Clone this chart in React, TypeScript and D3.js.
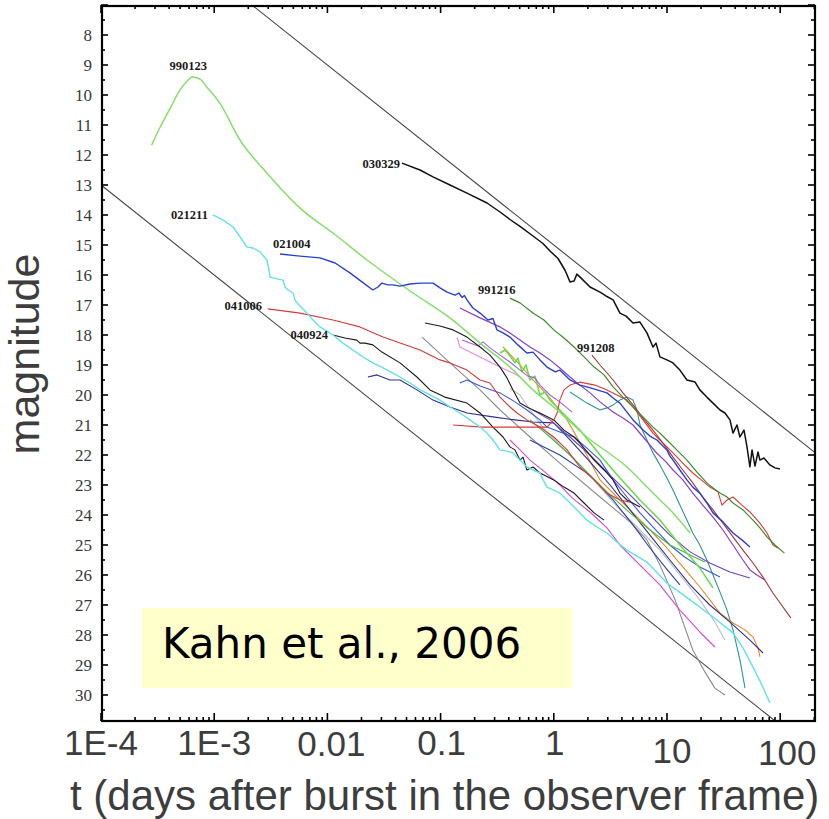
import React from "react";
import * as d3 from "d3";

type Pt = [number, number]; // [days after burst, magnitude]

// ---- labelled afterglow light curves ----
const grb990123: Pt[] = [
  [2.8e-4, 11.67], [3.3e-4, 11.1], [4.1e-4, 10.43], [5.0e-4, 9.83], [5.9e-4, 9.5], [6.4e-4, 9.4],
  [7.5e-4, 9.47], [8.6e-4, 9.73], [1.12e-3, 10.27], [1.69e-3, 11.5], [2.92e-3, 12.6], [5.97e-3, 13.83],
  [0.0112, 14.6], [0.0224, 15.5], [0.057, 16.6], [0.121, 17.43], [0.223, 18.27], [0.41, 19.07],
  [0.655, 19.83], [1.07, 20.5], [1.96, 21.4], [4.43, 22.4], [7.52, 23.27], [11.3, 23.93], [16.0, 24.6],
];

const grb021004: Pt[] = [
  [3.81e-3, 15.3], [5.73e-3, 15.37], [8.6e-3, 15.43], [0.0117, 15.6], [0.0158, 15.93], [0.0202, 16.23],
  [0.0252, 16.5], [0.028, 16.4], [0.0303, 16.27], [0.0343, 16.33], [0.0379, 16.33], [0.0438, 16.37],
  [0.0537, 16.3], [0.0658, 16.27], [0.0857, 16.27], [0.0988, 16.43], [0.114, 16.57], [0.134, 16.67],
  [0.145, 16.6], [0.155, 16.75], [0.162, 16.68], [0.171, 16.83], [0.193, 17.1], [0.223, 17.27],
  [0.262, 17.5], [0.29, 17.45], [0.315, 17.83], [0.356, 17.93], [0.41, 18.07], [0.482, 18.33],
  [0.579, 18.6], [0.655, 18.57], [0.755, 18.83], [0.871, 19.07], [1.03, 19.23], [1.13, 19.17],
  [1.39, 19.5], [1.7, 19.67], [1.96, 19.73], [2.41, 19.83], [2.95, 19.93], [3.34, 20.1], [3.84, 20.27],
  [4.43, 20.57], [5.01, 20.83], [5.55, 21.0], [6.14, 21.17], [7.07, 21.37], [8.15, 21.5], [9.02, 21.67],
  [9.98, 21.83], [10.6, 22.03], [11.3, 22.17], [13.0, 22.5], [15.0, 22.83], [16.9, 23.07], [19.5, 23.27],
  [22.5, 23.6], [25.5, 23.93], [31.2, 24.23], [38.3, 24.6], [45.9, 24.83], [54.0, 25.07],
];

const grb030329: Pt[] = [
  [0.0456, 12.27], [0.0658, 12.5], [0.0857, 12.73], [0.121, 13.0], [0.171, 13.27], [0.257, 13.6],
  [0.335, 13.9], [0.41, 14.15], [0.503, 14.38], [0.655, 14.7], [0.802, 14.95], [0.925, 15.2],
  [1.09, 15.45], [1.26, 15.85], [1.39, 16.23], [1.51, 16.2], [1.6, 15.97], [1.77, 16.13], [2.09, 16.4],
  [2.56, 16.57], [2.89, 16.7], [3.34, 16.83], [3.84, 17.27], [4.35, 17.37], [5.01, 17.6], [5.77, 17.57],
  [6.65, 17.93], [7.52, 18.4], [8.0, 18.27], [8.66, 18.73], [9.98, 18.83], [11.3, 18.93], [13.0, 19.17],
  [15.0, 19.5], [17.7, 19.57], [19.5, 19.83], [22.5, 20.07], [25.5, 20.27], [29.4, 20.5], [32.5, 20.6],
  [36.0, 20.83], [38.3, 21.27], [41.5, 21.0], [44.1, 21.4], [47.9, 21.17], [50.9, 21.73], [54.0, 22.4],
  [56.4, 21.83], [59.9, 22.37], [63.7, 21.9], [66.2, 22.17], [71.9, 22.1], [81.1, 22.33], [89.9, 22.43],
  [99.5, 22.47],
];

const grb991216: Pt[] = [
  [0.41, 16.77], [0.503, 16.93], [0.655, 17.27], [0.818, 17.5], [1.0, 17.83], [1.23, 18.1], [1.51, 18.4],
  [1.85, 18.73], [2.27, 19.07], [2.78, 19.33], [3.34, 19.73], [4.08, 20.07], [5.01, 20.4], [6.14, 20.73],
  [7.52, 21.07], [8.66, 21.27], [9.98, 21.5], [12.2, 21.83], [15.0, 22.17], [18.4, 22.57], [22.5, 22.93],
  [25.5, 23.1], [29.4, 23.27], [33.9, 23.4], [38.3, 23.6], [46.9, 23.83], [57.5, 24.17], [66.2, 24.43],
  [76.4, 24.73], [89.9, 25.0], [109, 25.27],
];

const grb991208: Pt[] = [
  [2.17, 18.67], [2.56, 19.0], [3.34, 19.5], [4.08, 19.93], [5.01, 20.33], [6.14, 20.77], [7.52, 21.17],
  [9.2, 21.6], [11.3, 22.07], [13.8, 22.5], [16.9, 22.93], [20.7, 23.4], [25.5, 23.83], [31.2, 24.27],
  [38.3, 24.73], [46.9, 25.17], [57.5, 25.6], [70.5, 26.07], [86.3, 26.6], [124, 27.43],
];

const grb021211: Pt[] = [
  [9.75e-4, 14.0], [1.2e-3, 14.17], [1.47e-3, 14.4], [1.69e-3, 14.73], [1.95e-3, 15.07], [2.2e-3, 15.1],
  [2.54e-3, 15.23], [2.92e-3, 15.5], [3.05e-3, 15.83], [3.11e-3, 16.07], [3.59e-3, 16.13], [4.06e-3, 16.17],
  [4.22e-3, 16.4], [4.49e-3, 16.5], [4.97e-3, 16.6], [5.17e-3, 16.83], [5.39e-3, 16.93], [5.97e-3, 17.1],
  [6.6e-3, 17.27], [7.46e-3, 17.5], [8.6e-3, 17.73], [9.93e-3, 17.87], [0.0112, 18.0], [0.0137, 18.27],
  [0.0168, 18.5], [0.0206, 18.73], [0.0252, 18.93], [0.031, 19.1], [0.0379, 19.27], [0.0438, 19.4],
  [0.0537, 19.6], [0.0658, 19.83], [0.0806, 20.0], [0.0988, 20.17], [0.121, 20.4], [0.148, 20.6],
  [0.182, 20.83], [0.223, 21.07], [0.257, 21.27], [0.29, 21.5], [0.335, 21.83], [0.386, 21.87],
  [0.436, 21.93], [0.503, 22.17], [0.579, 22.4], [0.655, 22.5], [0.755, 22.6], [0.804, 22.83],
  [0.871, 23.07], [1.0, 23.17], [1.13, 23.27], [1.31, 23.5], [1.51, 23.73], [1.7, 23.93], [1.96, 24.17],
  [2.41, 24.4], [2.95, 24.6], [3.61, 24.9], [4.43, 25.17], [5.43, 25.37], [6.65, 25.57], [9.98, 26.27],
  [16.0, 26.83], [25.5, 27.4], [38.3, 27.93], [46.9, 28.43], [57.5, 29.07], [69.0, 29.67], [81.1, 30.27],
];

const grb041006: Pt[] = [
  [2.98e-3, 17.13], [5.73e-3, 17.27], [0.0112, 17.5], [0.0194, 17.73], [0.031, 18.07], [0.0438, 18.27],
  [0.0658, 18.5], [0.0988, 18.83], [0.121, 18.93], [0.171, 19.17], [0.223, 19.5], [0.273, 19.6],
  [0.335, 20.07], [0.41, 20.4], [0.473, 20.6], [0.579, 20.83], [0.755, 21.07], [1.0, 21.4], [1.31, 21.83],
  [1.7, 22.4], [2.27, 22.83], [2.95, 23.27], [3.84, 23.5], [4.71, 23.57],
];

const grb040924: Pt[] = [
  [0.0112, 18.0], [0.0143, 18.1], [0.0182, 18.17], [0.0194, 18.27], [0.0215, 18.27], [0.0252, 18.33],
  [0.0303, 18.57], [0.0438, 18.93], [0.0618, 19.4], [0.0806, 19.83], [0.109, 20.07], [0.171, 20.27],
  [0.223, 20.6], [0.29, 21.07], [0.356, 21.4], [0.41, 21.73], [0.454, 21.83], [0.503, 22.17],
  [0.535, 22.07], [0.579, 22.5], [0.655, 22.4], [0.755, 22.6], [1.0, 22.83], [1.23, 23.07], [1.51, 23.27],
  [1.85, 23.6], [2.27, 23.93], [2.78, 24.17],
];

// ---- further afterglows in the bundle ----
const grb970508: Pt[] = [
  [0.129, 21.0], [0.237, 21.07], [0.473, 21.07], [0.871, 21.07], [1.0, 20.83], [1.07, 20.6], [1.13, 20.17],
  [1.23, 19.83], [1.39, 19.67], [1.7, 19.57], [2.31, 19.67], [2.95, 19.83], [3.61, 20.0], [4.43, 20.17],
  [5.01, 20.4], [6.14, 20.83], [7.52, 21.27], [9.2, 21.6], [11.3, 21.93], [13.8, 22.27], [16.9, 22.6],
  [20.7, 22.87], [23.9, 23.07], [28.2, 23.23], [30.6, 23.67], [33.9, 23.5], [38.3, 23.4], [45.9, 23.67],
  [54.0, 23.9], [66.2, 24.27], [76.4, 24.6], [86.3, 25.0], [95.5, 25.1],
];

const blackSecond: Pt[] = [
  [0.0728, 17.6], [0.0988, 17.7], [0.129, 17.83], [0.171, 18.07], [0.223, 18.4], [0.273, 18.67],
  [0.335, 19.07], [0.386, 19.43], [0.436, 19.83], [0.503, 20.27], [0.579, 20.4], [0.655, 20.5],
  [0.755, 20.6], [1.0, 20.83], [1.23, 21.17], [1.51, 21.4], [1.7, 21.6], [2.27, 22.17], [2.78, 22.5],
  [3.34, 22.83], [3.84, 23.27], [4.43, 23.5], [5.77, 23.73],
];

const purpleLong: Pt[] = [
  [0.148, 17.1], [0.223, 17.43], [0.335, 17.73], [0.41, 17.93], [0.503, 18.17], [0.616, 18.4],
  [0.755, 18.6], [0.925, 18.83], [1.13, 19.1], [1.39, 19.4], [1.7, 19.67], [2.09, 19.93], [2.56, 20.23],
  [3.34, 20.57], [4.08, 20.77], [5.01, 21.0], [6.48, 21.5], [7.95, 21.9], [9.79, 22.23], [11.3, 22.5],
  [13.8, 22.83], [16.9, 23.27], [20.7, 23.67], [25.5, 24.07], [31.2, 24.5], [38.3, 25.0], [46.9, 25.5],
  [54.0, 25.83], [62.4, 26.0], [73.5, 26.17],
];

const tealSteep: Pt[] = [
  [1.39, 19.9], [1.96, 20.27], [2.56, 20.5], [2.95, 20.43], [3.34, 20.33], [3.84, 20.17], [4.43, 20.07],
  [5.01, 20.17], [5.43, 20.5], [5.77, 21.0], [6.65, 21.5], [7.52, 21.93], [8.66, 22.33], [9.98, 22.77],
  [11.3, 23.17], [13.0, 23.67], [15.0, 24.17], [16.9, 24.6], [19.5, 25.0], [22.5, 25.5], [25.5, 26.0],
  [29.4, 26.57], [33.9, 27.17], [38.3, 27.83], [44.1, 28.83], [48.9, 29.77],
];

const grayLong: Pt[] = [
  [0.0686, 18.07], [0.121, 18.93], [0.223, 19.83], [0.335, 20.5], [0.616, 21.4], [1.13, 22.27],
  [2.56, 23.4], [4.71, 24.23], [6.65, 24.83], [8.66, 25.67], [11.8, 26.83], [16.9, 28.5], [21.6, 29.23],
  [26.5, 29.77], [32.5, 30.0],
];

const grayLight: Pt[] = [
  [0.41, 19.77], [0.503, 20.0], [0.616, 20.5], [0.836, 21.17], [1.13, 21.67], [1.7, 22.33], [2.56, 23.07],
  [3.84, 23.83], [5.77, 24.5], [8.66, 25.17], [13.0, 26.0], [19.5, 26.83], [26.5, 27.57], [32.5, 28.17],
];

const magentaTrack: Pt[] = [
  [0.41, 21.5], [0.503, 21.83], [0.616, 22.17], [0.836, 22.57], [1.13, 23.0], [1.45, 23.43], [2.09, 23.9],
  [2.95, 24.43], [3.84, 25.0], [5.77, 25.67], [8.66, 26.33], [13.0, 27.17], [19.5, 27.9], [26.5, 28.4],
];

const pinkShort: Pt[] = [
  [0.14, 18.07], [0.148, 18.4], [0.182, 18.57], [0.223, 18.73], [0.273, 18.9], [0.335, 19.07],
  [0.436, 19.27], [0.503, 19.4],
];

const violetTrack: Pt[] = [
  [0.155, 18.17], [0.182, 18.27], [0.214, 18.37], [0.237, 18.23], [0.273, 18.43], [0.335, 18.67],
  [0.41, 18.9], [0.503, 19.17], [0.591, 19.37], [0.682, 19.43], [0.755, 19.67], [0.925, 20.0],
  [1.13, 20.23], [1.45, 20.57],
];

const orangeTrack: Pt[] = [
  [0.356, 18.4], [0.503, 19.0], [0.655, 19.5], [0.925, 20.1], [1.31, 20.83], [1.85, 21.83], [2.56, 22.83],
  [3.61, 23.4], [5.01, 23.93], [7.07, 24.5], [9.98, 25.1], [13.8, 25.73], [19.5, 26.4], [23.9, 26.83],
  [29.4, 27.27], [38.3, 27.6], [48.9, 27.83], [57.5, 28.07], [63.7, 28.43], [66.2, 28.73],
];

const navyTrack: Pt[] = [
  [0.0228, 19.4], [0.0274, 19.33], [0.0357, 19.5], [0.0438, 19.5], [0.0618, 19.83], [0.0857, 20.17],
  [0.121, 20.4], [0.171, 20.6], [0.29, 20.73], [0.454, 20.83], [0.655, 20.9], [1.0, 20.93], [1.39, 21.5],
  [2.09, 22.23], [3.14, 23.0], [4.71, 23.83], [7.07, 24.67], [10.6, 25.5], [16.0, 26.33], [23.9, 27.0],
  [36.0, 27.57], [54.0, 28.17], [70.5, 28.6],
];

const purpleSecond: Pt[] = [
  [0.655, 20.5], [0.925, 20.83], [1.39, 21.4], [2.09, 22.0], [3.14, 22.67], [4.71, 23.33], [7.07, 24.0],
  [10.6, 24.67], [16.0, 25.23], [23.9, 25.6], [36.0, 25.9], [54.0, 26.1],
];

const blueSecond: Pt[] = [
  [0.148, 19.6], [0.171, 19.5], [0.223, 19.7], [0.335, 19.93], [0.454, 20.23], [0.579, 20.5],
  [0.755, 20.83], [0.871, 21.07], [1.13, 21.23], [1.51, 21.4], [1.96, 21.77], [2.56, 22.17], [3.34, 22.83],
  [4.43, 23.4], [5.77, 23.93], [7.95, 24.5], [10.6, 25.0], [14.3, 25.4], [19.5, 25.73], [29.4, 26.07],
];

const blueThird: Pt[] = [
  [0.616, 21.5], [1.13, 22.0], [2.09, 22.67], [3.34, 23.5], [5.01, 24.33], [7.07, 25.1], [9.79, 25.77],
  [13.0, 26.33],
];

const greenSecond: Pt[] = [
  [0.616, 20.83], [0.925, 21.4], [1.39, 22.0], [2.09, 22.67], [3.14, 23.33], [4.71, 23.93], [7.07, 24.5],
  [10.6, 25.0], [16.0, 25.33], [21.6, 25.57],
];

const greenBright: Pt[] = [
  [0.335, 18.6], [0.371, 18.5], [0.41, 18.7], [0.454, 18.93], [0.482, 18.77], [0.524, 19.23], [0.568, 19.0],
  [0.616, 19.5], [0.682, 19.37], [0.755, 20.0], [0.836, 19.9], [0.925, 20.17], [1.13, 20.5], [1.7, 21.17],
  [2.56, 22.0], [3.84, 22.77], [5.77, 23.5], [8.66, 24.17], [13.0, 25.0], [19.5, 25.77], [25.5, 26.43],
];

// ---- axes ----
const X_TICK_VALUES = [1e-4, 1e-3, 0.01, 0.1, 1, 10, 100];
const X_TICK_LABELS = ["1E-4", "1E-3", "0.01", "0.1", "1", "10", "100"];
const Y_TICK_VALUES = [8, 9, 10, 11, 12, 13, 14, 15, 16, 17, 18, 19, 20, 21, 22, 23, 24, 25, 26, 27, 28, 29, 30];

// power-law envelopes: magnitude at 1 day, decline in mag per decade of time
const ENVELOPE_MAG_AT_1D = [15, 25];
const ENVELOPE_DECLINE = 3;

const BURST_IDS = ["990123", "030329", "021211", "021004", "041006", "040924", "991216", "991208"];

// ---- drawing styles ----
const SERIES = [
  { data: grayLong, color: "#8c8c8c", w: 1.1 },
  { data: grayLight, color: "#bdbdbd", w: 1.1 },
  { data: magentaTrack, color: "#d24bd6", w: 1.1 },
  { data: tealSteep, color: "#2e9595", w: 1.1 },
  { data: orangeTrack, color: "#e38b2c", w: 1.1 },
  { data: navyTrack, color: "#30308c", w: 1.1 },
  { data: purpleSecond, color: "#6a44b8", w: 1.1 },
  { data: blueThird, color: "#3040b0", w: 1.1 },
  { data: blueSecond, color: "#3b58e6", w: 1.1 },
  { data: greenSecond, color: "#48b848", w: 1.1 },
  { data: greenBright, color: "#66dd44", w: 1.5 },
  { data: pinkShort, color: "#e98ae9", w: 1.1 },
  { data: violetTrack, color: "#a462e2", w: 1.1 },
  { data: purpleLong, color: "#8a40c8", w: 1.2 },
  { data: blackSecond, color: "#1e1e1e", w: 1.1 },
  { data: grb040924, color: "#1a1a1a", w: 1.1 },
  { data: grb041006, color: "#d23c3c", w: 1.1 },
  { data: grb970508, color: "#dc3a3a", w: 1.1 },
  { data: grb991208, color: "#a83636", w: 1.1 },
  { data: grb021211, color: "#62e2ea", w: 1.4 },
  { data: grb991216, color: "#3d8a2e", w: 1.2 },
  { data: grb990123, color: "#86df6a", w: 1.5, smooth: true },
  { data: grb021004, color: "#2a40d4", w: 1.4 },
  { data: grb030329, color: "#111111", w: 1.5 },
];

// label anchors in data units (t, magnitude of baseline)
const LABEL_ANCHORS: { t: number; m: number; anchor: "start" | "middle" | "end" }[] = [
  { t: 5.9e-4, m: 9.17, anchor: "middle" },
  { t: 0.0438, m: 12.43, anchor: "end" },
  { t: 8.8e-4, m: 14.13, anchor: "end" },
  { t: 3.3e-3, m: 15.1, anchor: "start" },
  { t: 2.64e-3, m: 17.17, anchor: "end" },
  { t: 0.0101, m: 18.13, anchor: "end" },
  { t: 0.214, m: 16.63, anchor: "start" },
  { t: 1.6, m: 18.57, anchor: "start" },
];

const X_LABEL_NUDGE: [number, number][] = [[0, 0], [0, 0], [4, 1], [1, 0], [1, 0], [5, 8], [7, 10]];

export default function App() {
  const W = 829;
  const H = 819;
  const L = 101, R = 815, T = 5, B = 721;

  const x = d3.scaleLog().domain([1e-4, 203]).range([L, R]);
  const y = d3.scaleLinear().domain([7, 30.867]).range([T, B]);

  const straight = d3.line<Pt>().x((d) => x(d[0])).y((d) => y(d[1]));
  const smooth = d3.line<Pt>().x((d) => x(d[0])).y((d) => y(d[1])).curve(d3.curveMonotoneX);

  const envT: [number, number] = [1e-4, 203];
  const envelopes = ENVELOPE_MAG_AT_1D.map((m0) =>
    envT.map((t) => [t, m0 + ENVELOPE_DECLINE * Math.log10(t)] as Pt)
  );

  const allXTicks = x.ticks();
  const isMajor = (t: number) => Math.abs(Math.log10(t) - Math.round(Math.log10(t))) < 1e-6;
  const halfMags: number[] = [];
  for (let m = 7; m <= 30.5; m += 0.5) halfMags.push(m);

  return (
    <svg
      width={W}
      height={H}
      style={{ position: "absolute", left: 0, top: 0, background: "#fff" }}
    >
      <defs>
        <clipPath id="plotArea">
          <rect x={L} y={T} width={R - L} height={B - T} />
        </clipPath>
      </defs>
      <rect x={0} y={0} width={W} height={H} fill="#fff" />

      <g clipPath="url(#plotArea)">
        {envelopes.map((e, i) => (
          <path key={"env" + i} d={straight(e) || ""} fill="none" stroke="#444" strokeWidth={1.1} />
        ))}
        {SERIES.map((s, i) => (
          <path
            key={"s" + i}
            d={(s.smooth ? smooth : straight)(s.data) || ""}
            fill="none"
            stroke={s.color}
            strokeWidth={s.w}
            strokeLinejoin="round"
          />
        ))}
      </g>

      {/* burst names */}
      {BURST_IDS.map((id, i) => (
        <text
          key={id}
          x={x(LABEL_ANCHORS[i].t)}
          y={y(LABEL_ANCHORS[i].m)}
          textAnchor={LABEL_ANCHORS[i].anchor}
          fontFamily="'Liberation Serif', serif"
          fontWeight="bold"
          fontSize={12.5}
          fill="#1a1a1a"
        >
          {id}
        </text>
      ))}

      {/* frame */}
      <rect x={L + 1} y={T + 1} width={R - L - 1} height={B - T - 1} fill="none" stroke="#000" strokeWidth={2.2} />

      {/* x ticks, bottom and top */}
      {allXTicks.map((t, i) => {
        const px = x(t);
        const len = isMajor(t) ? 8 : 4;
        return (
          <g key={"xt" + i} stroke="#000" strokeWidth={1.6}>
            <line x1={px} x2={px} y1={B} y2={B - len} />
            <line x1={px} x2={px} y1={T} y2={T + len} />
          </g>
        );
      })}

      {/* y ticks, left and right */}
      {halfMags.map((m, i) => {
        const py = y(m);
        const len = Number.isInteger(m) ? 7 : 4;
        return (
          <g key={"yt" + i} stroke="#000" strokeWidth={1.6}>
            <line x1={L} x2={L + len} y1={py} y2={py} />
            <line x1={R} x2={R - len} y1={py} y2={py} />
          </g>
        );
      })}

      {Y_TICK_VALUES.map((m) => (
        <text
          key={"yl" + m}
          x={92}
          y={y(m)}
          dy="0.34em"
          textAnchor="end"
          fontFamily="'Liberation Serif', serif"
          fontSize={17}
          fill="#3a3a3a"
        >
          {m}
        </text>
      ))}

      {X_TICK_VALUES.map((t, i) => (
        <text
          key={"xl" + i}
          x={x(t) + X_LABEL_NUDGE[i][0]}
          y={755 + X_LABEL_NUDGE[i][1]}
          textAnchor="middle"
          fontFamily="'Liberation Sans', Arial, sans-serif"
          fontSize={35}
          fill="#3d3d3d"
        >
          {X_TICK_LABELS[i]}
        </text>
      ))}

      <text
        x={70}
        y={810}
        fontFamily="'Liberation Sans', Arial, sans-serif"
        fontSize={42}
        fill="#3d3d3d"
      >
        t (days after burst in the observer frame)
      </text>

      <text
        transform="translate(39,354) rotate(-90)"
        textAnchor="middle"
        fontFamily="'Liberation Sans', Arial, sans-serif"
        fontSize={43}
        fill="#3d3d3d"
      >
        magnitude
      </text>

      <rect x={142} y={608} width={430} height={80} fill="#ffffcc" />
      <text x={162} y={658} fontFamily="'DejaVu Sans', sans-serif" fontSize={42} fill="#000">
        Kahn et al., 2006
      </text>
    </svg>
  );
}
